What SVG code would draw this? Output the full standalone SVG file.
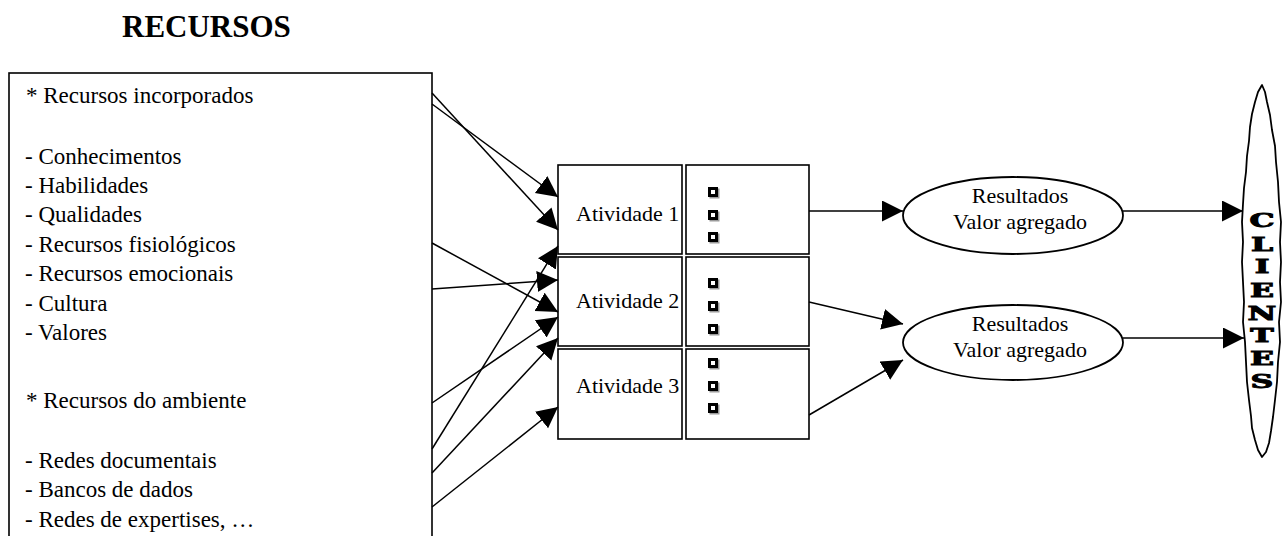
<svg xmlns="http://www.w3.org/2000/svg" xmlns:xlink="http://www.w3.org/1999/xlink" width="1285" height="536" viewBox="0 0 1285 536">
<style>
.t{font-family:"Liberation Serif","Times New Roman",serif;fill:#000}
.lt{font-size:23px}
.mt{font-size:22px}
.box{fill:#fff;stroke:#000;stroke-width:1.6}
.ln{stroke:#000;stroke-width:1.5;fill:none;marker-end:url(#ah)}
.cl{font-family:"DejaVu Serif",serif;font-weight:bold;font-size:18px;text-anchor:middle;stroke:#000;stroke-width:0.9}
</style>
<defs>
<marker id="ah" markerUnits="userSpaceOnUse" markerWidth="24" markerHeight="22" refX="21" refY="10.5" orient="auto">
<path d="M0,0 L21,10.5 L0,21 z" fill="#000"/>
</marker>
<g id="bul">
<rect x="-3.5" y="-3.5" width="10" height="10" fill="#9a9a9a"/>
<rect x="-5" y="-5" width="10" height="10" fill="#000"/>
<rect x="-2" y="-2" width="4" height="4" fill="#fff"/>
</g>
</defs>
<rect width="1285" height="536" fill="#fff"/>

<g id="title">
<text class="t" x="122" y="37" font-size="31" font-weight="bold">RECURSOS</text>
</g>

<g id="resources">
<rect class="box" x="9" y="73" width="423" height="480"/>
<g class="t lt">
<text x="26" y="103">* Recursos incorporados</text>
<text x="25" y="164">- Conhecimentos</text>
<text x="25" y="193">- Habilidades</text>
<text x="25" y="222">- Qualidades</text>
<text x="25" y="252">- Recursos fisiológicos</text>
<text x="25" y="281">- Recursos emocionais</text>
<text x="25" y="311">- Cultura</text>
<text x="25" y="340">- Valores</text>
<text x="26" y="408">* Recursos do ambiente</text>
<text x="25" y="468">- Redes documentais</text>
<text x="25" y="497">- Bancos de dados</text>
<text x="25" y="527">- Redes de expertises, …</text>
</g>
</g>

<g id="act1">
<rect class="box" x="558" y="165" width="124" height="89"/>
<rect class="box" x="686" y="165" width="123" height="89"/>
<text class="t mt" x="576" y="221">Atividade 1</text>
<use xlink:href="#bul" x="713" y="192"/>
<use xlink:href="#bul" x="713" y="215"/>
<use xlink:href="#bul" x="713" y="237"/>
</g>
<g id="act2">
<rect class="box" x="558" y="257" width="124" height="89"/>
<rect class="box" x="686" y="257" width="123" height="89"/>
<text class="t mt" x="576" y="308">Atividade 2</text>
<use xlink:href="#bul" x="713" y="283"/>
<use xlink:href="#bul" x="713" y="306"/>
<use xlink:href="#bul" x="713" y="329"/>
</g>
<g id="act3">
<rect class="box" x="558" y="349" width="124" height="90"/>
<rect class="box" x="686" y="349" width="123" height="90"/>
<text class="t mt" x="576" y="393">Atividade 3</text>
<use xlink:href="#bul" x="713" y="363"/>
<use xlink:href="#bul" x="713" y="386"/>
<use xlink:href="#bul" x="713" y="408"/>
</g>

<g id="res1">
<ellipse cx="1013" cy="215.5" rx="110" ry="38.5" fill="#fff" stroke="#000" stroke-width="1.8"/>
<text class="t mt" x="1020" y="203" text-anchor="middle">Resultados</text>
<text class="t mt" x="1020" y="229" text-anchor="middle">Valor agregado</text>
</g>
<g id="res2">
<ellipse cx="1013" cy="342.5" rx="110" ry="37.5" fill="#fff" stroke="#000" stroke-width="1.8"/>
<text class="t mt" x="1020" y="331" text-anchor="middle">Resultados</text>
<text class="t mt" x="1020" y="357" text-anchor="middle">Valor agregado</text>
</g>

<g id="clientes">
<path d="M1262,85 L1258,92 L1255,102 L1252,114 L1250,127 L1249,141 L1247,156 L1246,172 L1244,188 L1243,204 L1242,222 L1243,242 L1242,262 L1243,282 L1244,302 L1243,322 L1245,342 L1246,362 L1247,382 L1249,400 L1251,416 L1252,428 L1255,440 L1258,450 L1262,457 L1266,452 L1269,443 L1271,431 L1273,417 L1275,400 L1277,382 L1278,362 L1280,342 L1279,322 L1281,302 L1280,282 L1281,262 L1280,242 L1281,222 L1279,202 L1278,182 L1276,162 L1275,146 L1272,130 L1270,115 L1267,102 L1265,92 Z" fill="#fff" stroke="#000" stroke-width="1.8" stroke-linejoin="round"/>
<g transform="translate(1262,0) scale(1.75,1)">
<text class="cl" x="0" y="227">C</text>
<text class="cl" x="0" y="251">L</text>
<text class="cl" x="0" y="273">I</text>
<text class="cl" x="0" y="297">E</text>
<text class="cl" x="0" y="320">N</text>
<text class="cl" x="0" y="342">T</text>
<text class="cl" x="0" y="365">E</text>
<text class="cl" x="0" y="388">S</text>
</g>
</g>

<g id="connectors">
<line class="ln" x1="432" y1="93" x2="558" y2="230"/>
<line class="ln" x1="432" y1="104" x2="558" y2="197"/>
<line class="ln" x1="432" y1="243" x2="558" y2="312"/>
<line class="ln" x1="432" y1="289" x2="558" y2="280"/>
<line class="ln" x1="432" y1="403" x2="558" y2="317"/>
<line class="ln" x1="432" y1="449" x2="558" y2="246"/>
<line class="ln" x1="432" y1="473" x2="558" y2="338"/>
<line class="ln" x1="432" y1="507" x2="558" y2="407"/>
<line class="ln" x1="809" y1="211" x2="903" y2="211"/>
<line class="ln" x1="809" y1="302" x2="903" y2="324"/>
<line class="ln" x1="809" y1="415" x2="903" y2="360"/>
<line class="ln" x1="1123" y1="211" x2="1243" y2="211"/>
<line class="ln" x1="1123" y1="338" x2="1244" y2="338"/>
</g>
</svg>
